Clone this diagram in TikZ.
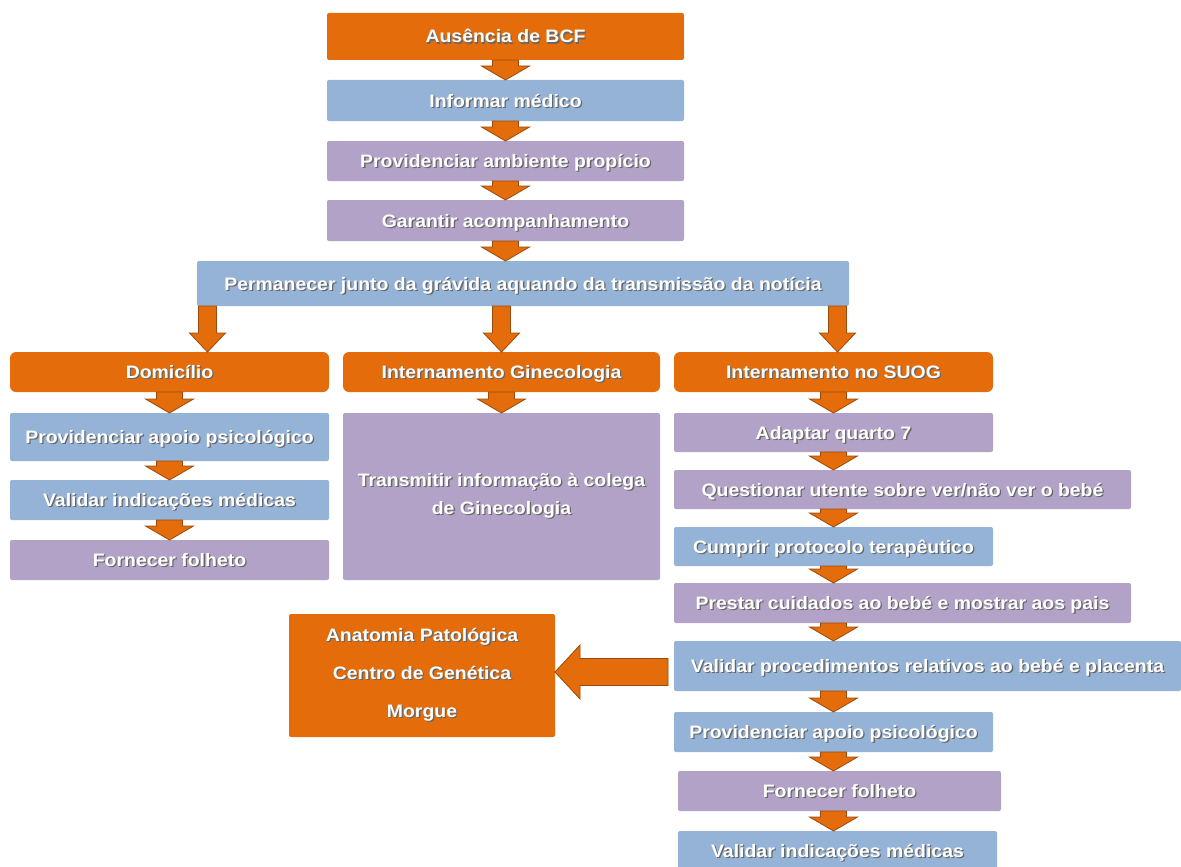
\documentclass[tikz,border=0pt]{standalone}
\usepackage{fontspec}
\setmainfont[FakeStretch=1.08]{Liberation Sans}
\usetikzlibrary{calc}

\definecolor{bcforange}{HTML}{E46C0A}
\definecolor{bcfblue}{HTML}{95B3D7}
\definecolor{bcfpurple}{HTML}{B3A2C7}
\definecolor{arrowedge}{HTML}{9A4A0C}

% white bold label with a soft dark drop shadow
\newcommand\sh[1]{\leavevmode\rlap{\kern1.3pt\raisebox{-1.3pt}{\textcolor{black!60}{#1}}}#1}

% box placed by its corners: name, style, x1, y1, x2, y2, text
\newcommand\boxat[7]{%
  \node[box,#2,minimum width={(#5-#3)*1pt},minimum height={(#6-#4)*1pt}] (#1) at (#3,#4) {#7};}

% downward block arrow: top point, tip point, half shaft, half head, head length
\newcommand\darr[5]{%
  \path let \p1=(#1), \p2=(#2) in [blockarrow]
    (\x1-#3,\y1) -- (\x1+#3,\y1) -- (\x1+#3,\y2+#5) -- (\x1+#4,\y2+#5)
    -- (\x1,\y2) -- (\x1-#4,\y2+#5) -- (\x1-#3,\y2+#5) -- cycle;}

% leftward block arrow: tail point, tip point, half shaft, half head, head length
\newcommand\larr[5]{%
  \path let \p1=(#1), \p2=(#2) in [blockarrow]
    (\x1,\y1+#3) -- (\x1,\y1-#3) -- (\x2+#5,\y1-#3) -- (\x2+#5,\y1-#4)
    -- (\x2,\y1) -- (\x2+#5,\y1+#4) -- (\x2+#5,\y1+#3) -- cycle;}

\tikzset{
  box/.style={anchor=north west, inner sep=0pt, outer sep=0pt, align=center,
    text=white, font=\bfseries\fontsize{18}{22}\selectfont, rounded corners=2pt,
    text height=13pt, text depth=0pt},
  multiline/.style={text height=, text depth=},
  orangebox/.style={fill=bcforange},
  headbox/.style={fill=bcforange, rounded corners=6pt},
  bluebox/.style={fill=bcfblue},
  purplebox/.style={fill=bcfpurple},
  blockarrow/.style={fill=bcforange, draw=arrowedge, line width=0.8pt, line join=miter},
}

\begin{document}
\begin{tikzpicture}[x=1pt,y=-1pt]
\useasboundingbox (0,0) rectangle (1181,867);
\fill[white] (0,0) rectangle (1181,867);

% main trunk
\boxat{aus}{orangebox}{327}{13}{684}{60}{\sh{Ausência de BCF}}
\boxat{inf}{bluebox}{327}{80}{684}{121}{\sh{Informar médico}}
\boxat{amb}{purplebox}{327}{141}{684}{181}{\sh{Providenciar ambiente propício}}
\boxat{gar}{purplebox}{327}{200}{684}{241}{\sh{Garantir acompanhamento}}
\boxat{perm}{bluebox}{197}{261}{849}{306}{\sh{Permanecer junto da grávida aquando da transmissão da notícia}}

% three destinations
\boxat{dom}{headbox}{10}{352}{329}{392}{\sh{Domicílio}}
\boxat{ging}{headbox}{343}{352}{660}{392}{\sh{Internamento Ginecologia}}
\boxat{suog}{headbox}{674}{352}{993}{392}{\sh{Internamento no SUOG}}

% home branch
\boxat{apoioL}{bluebox}{10}{413}{329}{461}{\sh{Providenciar apoio psicológico}}
\boxat{validL}{bluebox}{10}{480}{329}{520}{\sh{Validar indicações médicas}}
\boxat{folhL}{purplebox}{10}{540}{329}{580}{\sh{Fornecer folheto}}

% gynaecology branch
\boxat{transm}{purplebox,multiline}{343}{413}{660}{580}{\sh{Transmitir informação à colega}\\[6pt]\sh{de Ginecologia}}

% SUOG branch
\boxat{adapt}{purplebox}{674}{413}{993}{452}{\sh{Adaptar quarto 7}}
\boxat{quest}{purplebox}{674}{470}{1131}{509}{\sh{Questionar utente sobre ver/não ver o bebé}}
\boxat{cumprir}{bluebox}{674}{527}{993}{566}{\sh{Cumprir protocolo terapêutico}}
\boxat{prestar}{purplebox}{674}{583}{1131}{623}{\sh{Prestar cuidados ao bebé e mostrar aos pais}}
\boxat{valp}{bluebox}{674}{641}{1181}{691}{\sh{Validar procedimentos relativos ao bebé e placenta}}
\boxat{apoioR}{bluebox}{674}{712}{993}{752}{\sh{Providenciar apoio psicológico}}
\boxat{folhR}{purplebox}{678}{771}{1001}{811}{\sh{Fornecer folheto}}
\boxat{validR}{bluebox}{678}{831}{997}{870}{\sh{Validar indicações médicas}}

% external services
\boxat{anat}{orangebox,multiline}{289}{614}{555}{737}{\sh{Anatomia Patológica}\\[16pt]\sh{Centro de Genética}\\[16pt]\sh{Morgue}}

% trunk arrows
\darr{aus.south}{inf.north}{13pt}{24pt}{14pt}
\darr{inf.south}{amb.north}{13pt}{24pt}{14pt}
\darr{amb.south}{gar.north}{13pt}{24pt}{14pt}
\darr{gar.south}{perm.north}{13pt}{24pt}{14pt}

% branching arrows
\darr{[xshift=38pt]dom.north |- perm.south}{[xshift=38pt]dom.north}{9pt}{18pt}{19pt}
\darr{ging.north |- perm.south}{ging.north}{9pt}{18pt}{19pt}
\darr{[xshift=4pt]suog.north |- perm.south}{[xshift=4pt]suog.north}{9pt}{18pt}{19pt}

% home branch arrows
\darr{dom.south}{apoioL.north}{13pt}{24pt}{14pt}
\darr{apoioL.south}{validL.north}{13pt}{24pt}{14pt}
\darr{validL.south}{folhL.north}{13pt}{24pt}{14pt}

% gynaecology arrow
\darr{ging.south}{transm.north}{13pt}{24pt}{14pt}

% SUOG chain arrows
\darr{suog.south}{adapt.north}{13pt}{24pt}{14pt}
\darr{adapt.south}{suog |- quest.north}{13pt}{24pt}{14pt}
\darr{suog |- quest.south}{cumprir.north}{13pt}{24pt}{14pt}
\darr{cumprir.south}{suog |- prestar.north}{13pt}{24pt}{14pt}
\darr{suog |- prestar.south}{suog |- valp.north}{13pt}{24pt}{14pt}
\darr{suog |- valp.south}{apoioR.north}{13pt}{24pt}{14pt}
\darr{apoioR.south}{suog |- folhR.north}{13pt}{24pt}{14pt}
\darr{suog |- folhR.south}{suog |- validR.north}{13pt}{24pt}{14pt}

% arrow to the external services
\larr{[shift={(-6,6)}]valp.west}{anat.east}{13.5pt}{27pt}{25pt}
\end{tikzpicture}
\end{document}
